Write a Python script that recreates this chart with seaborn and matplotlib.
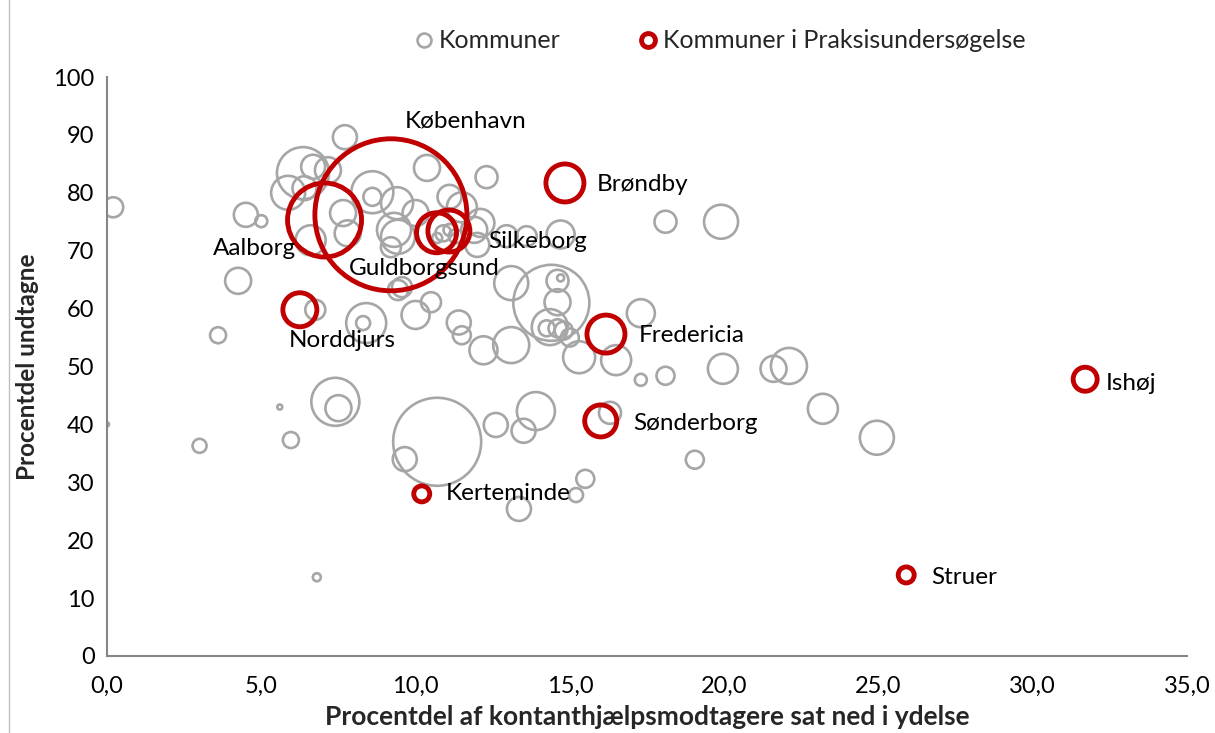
import matplotlib
matplotlib.use("Agg")
import matplotlib.pyplot as plt
from matplotlib.lines import Line2D
import seaborn as sns
import pandas as pd

# ---------------- data ----------------
# Alle kommuner (grå bobler)
kom_x = [0.2, 0.0, 3.0, 3.6, 4.25, 4.5, 5.0, 5.6, 5.96, 6.8,
         6.75, 7.71, 6.35, 6.68, 7.16, 5.87, 6.4, 8.6, 8.6, 10.37,
         12.3, 9.4, 7.65, 6.6, 7.8, 9.3, 9.2, 10.0, 11.1, 11.5,
         12.1, 11.9, 10.9, 11.1, 11.3, 10.7, 12.95, 13.6, 14.7, 18.1,
         19.9, 13.1, 14.4, 14.7, 14.6, 14.6, 14.35, 14.25, 14.6, 14.8,
         15.0, 15.3, 16.5, 17.3, 11.4, 11.5, 12.2, 13.1, 9.43, 10.0,
         10.5, 8.4, 8.3, 10.7, 9.65, 12.6, 13.9, 13.5, 16.3, 15.5,
         15.2, 13.35, 7.4, 7.5, 17.3, 18.1, 19.96, 21.6, 22.1, 23.2,
         24.95, 19.05, 9.56, 9.43, 12.0]
kom_y = [77.5, 40.0, 36.3, 55.4, 64.8, 76.2, 75.1, 43.0, 37.3, 13.6,
         59.8, 89.6, 83.4, 84.5, 83.9, 80.0, 80.8, 80.1, 79.3, 84.3,
         82.7, 78.2, 76.5, 71.8, 73.0, 73.6, 70.6, 76.5, 79.3, 77.5,
         74.8, 73.6, 73.0, 73.6, 72.5, 72.2, 72.5, 72.5, 72.8, 75.0,
         75.0, 64.4, 61.0, 65.3, 64.8, 61.1, 56.8, 56.6, 56.6, 56.2,
         55.0, 51.6, 51.1, 59.2, 57.6, 55.4, 52.8, 53.7, 63.2, 58.9,
         61.1, 57.5, 57.5, 37.0, 34.0, 39.9, 42.3, 38.9, 42.0, 30.6,
         27.8, 25.4, 43.9, 42.8, 47.7, 48.4, 49.6, 49.6, 50.1, 42.7,
         37.7, 33.9, 63.7, 72.4, 71.0]
kom_antal = [400, 16, 196, 256, 676, 576, 144, 25, 256, 64,
             400, 576, 2704, 576, 676, 1156, 576, 1764, 324, 676,
             484, 1024, 676, 900, 676, 1156, 400, 676, 576, 900,
             784, 676, 256, 144, 196, 100, 484, 400, 784, 484,
             1156, 1156, 5776, 49, 484, 676, 1296, 256, 324, 324,
             324, 1024, 900, 784, 576, 324, 784, 1296, 400, 784,
             400, 1600, 196, 7744, 576, 576, 1444, 576, 484, 324,
             196, 576, 2304, 676, 144, 324, 900, 676, 1296, 900,
             1156, 324, 400, 1156, 576]

# Kommuner i Praksisundersøgelse (røde bobler)
prak_navn = ["København", "Aalborg", "Guldborgsund", "Silkeborg", "Brøndby",
             "Norddjurs", "Fredericia", "Sønderborg", "Kerteminde", "Struer", "Ishøj"]
prak_x = [9.2, 7.05, 10.68, 11.08, 14.84, 6.25, 16.17, 16.0, 10.2, 25.9, 31.7]
prak_y = [76.2, 75.3, 73.1, 73.4, 81.7, 59.8, 55.6, 40.6, 28.0, 14.0, 47.8]
prak_antal = [23104, 5476, 1600, 1764, 1444, 1156, 1444, 1024, 256, 256, 576]

x_ticks = [0, 5, 10, 15, 20, 25, 30, 35]
y_ticks = [0, 10, 20, 30, 40, 50, 60, 70, 80, 90, 100]
x_title = "Procentdel af kontanthjælpsmodtagere sat ned i ydelse"
y_title = "Procentdel undtagne"
legend_labels = ["Kommuner", "Kommuner i Praksisundersøgelse"]

# ---------------- styling ----------------
sns.set_theme(style="white")
plt.rcParams["font.family"] = ["Lato", "DejaVu Sans"]

GRAY = "#A6A6A6"
RED = "#C00000"
AXIS = "#868686"

df_k = pd.DataFrame({"x": kom_x, "y": kom_y, "antal": kom_antal})
df_p = pd.DataFrame({"navn": prak_navn, "x": prak_x, "y": prak_y, "antal": prak_antal})

DPI = 100
fig = plt.figure(figsize=(12.15, 7.33), dpi=DPI)
ax = fig.add_axes([107 / 1215, 1 - 656 / 733, (1187 - 107) / 1215, (656 - 77) / 733])

max_antal = max(max(kom_antal), max(prak_antal))
# area proportional to value: radius_px = sqrt(antal/4)
pt_per_px = 72 / DPI
s_max = (2 * (max_antal / 4) ** 0.5 * pt_per_px) ** 2

sns.scatterplot(data=df_k, x="x", y="y", size="antal", sizes=(0, s_max),
                size_norm=(0, max_antal), color=GRAY, facecolor="none",
                edgecolor=GRAY, linewidth=1.9, legend=False, ax=ax, zorder=2)
sns.scatterplot(data=df_p, x="x", y="y", size="antal", sizes=(0, s_max),
                size_norm=(0, max_antal), color=RED, facecolor="none",
                edgecolor=RED, linewidth=3.5, legend=False, ax=ax, zorder=3)

# label offsets in pixels (dx right, dy up) and alignment
label_pos = {
    "København": (75, 94, "center"),
    "Aalborg": (-70, -28, "center"),
    "Guldborgsund": (-12, -36, "center"),
    "Silkeborg": (89, -10, "center"),
    "Brøndby": (32, -2, "left"),
    "Norddjurs": (42, -31, "center"),
    "Fredericia": (33, -1, "left"),
    "Sønderborg": (33, -3, "left"),
    "Kerteminde": (24, 0, "left"),
    "Struer": (25, -3, "left"),
    "Ishøj": (21, -4, "left"),
}
for _, r in df_p.iterrows():
    dx, dy, ha = label_pos[r["navn"]]
    ax.annotate(r["navn"], (r["x"], r["y"]), xytext=(dx * pt_per_px, dy * pt_per_px),
                textcoords="offset points", ha=ha, va="center", fontsize=17.5,
                color="black", zorder=5)

ax.set_xlim(0, 35)
ax.set_ylim(0, 100)
ax.set_xticks(x_ticks)
ax.set_xticklabels([f"{v:.1f}".replace(".", ",") for v in x_ticks])
ax.set_yticks(y_ticks)
ax.set_yticklabels([str(v) for v in y_ticks])
ax.tick_params(axis="both", length=0, labelsize=17, colors="black")
ax.tick_params(axis="x", pad=14)
ax.tick_params(axis="y", pad=9)

for side in ["top", "right"]:
    ax.spines[side].set_visible(False)
for side in ["left", "bottom"]:
    ax.spines[side].set_color(AXIS)
    ax.spines[side].set_linewidth(1.5)

ax.set_xlabel(x_title, fontsize=19, fontweight="bold", labelpad=6)
ax.set_ylabel(y_title, fontsize=17.5, fontweight="bold", labelpad=10)
ax.grid(False)

handles = [
    Line2D([], [], marker="o", linestyle="none", markersize=10, markerfacecolor="none",
           markeredgecolor=GRAY, markeredgewidth=1.9),
    Line2D([], [], marker="o", linestyle="none", markersize=10, markerfacecolor="none",
           markeredgecolor=RED, markeredgewidth=3.5),
]
fig.legend(handles, legend_labels, loc="center", bbox_to_anchor=(720 / 1215, 1 - 41 / 733),
           ncol=2, frameon=False, fontsize=18, handlelength=0.8, handletextpad=0.2,
           columnspacing=3.1)

# outer chart border on the left edge
fig.add_artist(Line2D([9 / 1215, 9 / 1215], [0, 1], transform=fig.transFigure,
                      color="#BFBFBF", linewidth=1))

fig.savefig("out.png", dpi=DPI)
